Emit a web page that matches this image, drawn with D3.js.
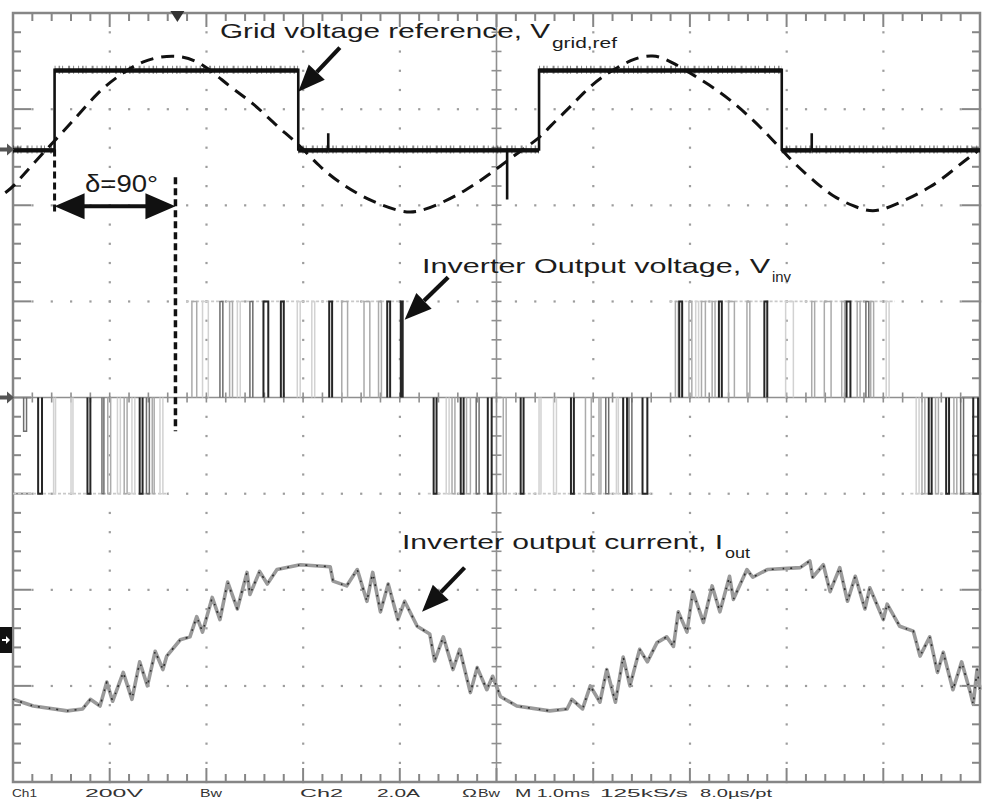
<!DOCTYPE html>
<html><head><meta charset="utf-8">
<script src="https://cdn.jsdelivr.net/npm/d3@7"></script>
<style>html,body{margin:0;padding:0;background:#fff;overflow:hidden}</style>
</head><body>
<svg id="c" width="1000" height="801"></svg>
<script>
// ---------- data (time in divisions, level in divisions) ----------
const squareT = [0, 0.43, 0.43, 2.95, 2.95, 3.26, 3.26, 3.26, 5.11, 5.11, 5.11, 5.44, 5.44, 7.95, 7.95, 8.26, 8.26, 8.26, 10];
const squareV = [2.58, 2.58, 3.41, 3.41, 2.58, 2.58, 2.75, 2.58, 2.58, 2.06, 2.58, 2.58, 3.41, 3.41, 2.58, 2.58, 2.75, 2.58, 2.58];

const sineT = [-0.08,0,0.18,0.41,0.66,0.87,1.08,1.34,1.65,1.93,2.24,2.48,2.73,2.94,3.17,3.38,3.66,4.00,4.18,4.45,4.69,4.90,5.17,5.45,5.55,5.73,5.90,6.07,6.41,6.62,6.79,7.24,7.45,7.65,7.83,8.07,8.31,8.48,8.69,8.89,9.10,9.51,9.76,9.97];
const sineV = [2.13,2.19,2.40,2.65,2.92,3.17,3.34,3.51,3.57,3.51,3.23,3.07,2.82,2.65,2.40,2.23,2.06,1.93,1.92,2.03,2.16,2.30,2.51,2.70,2.82,2.99,3.17,3.33,3.53,3.57,3.51,3.23,3.07,2.89,2.71,2.44,2.23,2.09,1.99,1.92,1.99,2.19,2.40,2.56];

const currentT = [0,0.21,0.56,0.72,0.80,0.90,0.97,1.03,1.14,1.23,1.31,1.39,1.47,1.55,1.59,1.73,1.83,1.90,1.96,2.06,2.14,2.22,2.32,2.42,2.45,2.55,2.63,2.73,2.97,3.28,3.31,3.45,3.56,3.66,3.72,3.80,3.88,3.98,4.05,4.18,4.31,4.36,4.45,4.55,4.62,4.73,4.80,4.90,4.96,5.04,5.21,5.55,5.73,5.78,5.89,5.97,6.07,6.14,6.23,6.31,6.38,6.48,6.56,6.66,6.76,6.83,6.88,6.97,7.03,7.14,7.23,7.31,7.41,7.45,7.59,7.65,7.80,8.14,8.24,8.27,8.38,8.45,8.55,8.63,8.71,8.81,8.86,9.00,9.04,9.17,9.31,9.38,9.48,9.56,9.62,9.72,9.81,9.90,9.93,9.97,10.0];
const currentV = [-3.14,-3.21,-3.26,-3.24,-3.14,-3.21,-2.96,-3.16,-2.86,-3.14,-2.75,-3.00,-2.64,-2.83,-2.69,-2.52,-2.49,-2.28,-2.44,-2.08,-2.31,-1.92,-2.20,-1.82,-2.05,-1.81,-1.94,-1.79,-1.74,-1.76,-1.91,-1.96,-1.79,-2.12,-1.82,-2.23,-1.94,-2.31,-2.12,-2.38,-2.46,-2.74,-2.49,-2.83,-2.62,-3.07,-2.81,-3.04,-2.90,-3.11,-3.21,-3.26,-3.24,-3.14,-3.24,-3.00,-3.17,-2.83,-3.17,-2.70,-3.00,-2.62,-2.75,-2.55,-2.49,-2.59,-2.23,-2.44,-2.02,-2.34,-1.96,-2.23,-1.86,-2.10,-1.79,-1.87,-1.79,-1.77,-1.70,-1.87,-1.74,-2.02,-1.77,-2.12,-1.86,-2.20,-1.98,-2.31,-2.15,-2.38,-2.43,-2.69,-2.49,-2.86,-2.65,-3.04,-2.75,-3.07,-3.19,-2.83,-3.04];

// PWM pulses: [start, end, level, persistence intensity 0..3]
const negPulsesA = [[0.11,0.14,-0.35,2],[0.26,0.30,-1,3],[0.42,0.44,-1,0],[0.60,0.62,-1,0],[0.77,0.80,-1,3],[0.92,0.94,-1,2],[0.98,1.01,-1,1],[1.08,1.11,-1,0],[1.15,1.18,-1,1],[1.23,1.26,-1,0],[1.31,1.34,-1,3],[1.38,1.41,-1,2],[1.44,1.46,-1,1],[1.52,1.55,-1,0]];
const posPulsesA = [[1.85,1.90,1,1],[1.96,2.02,1,0],[2.14,2.17,1,2],[2.24,2.27,1,1],[2.32,2.35,1,0],[2.45,2.48,1,2],[2.59,2.64,1,3],[2.77,2.80,1,3],[2.94,2.97,1,0],[3.09,3.12,1,0],[3.27,3.30,1,3],[3.40,3.46,1,1],[3.63,3.69,1,1],[3.78,3.81,1,1],[3.87,3.90,1,3],[4.01,4.03,1,3]];
const negPulsesB = [[4.35,4.38,-1,3],[4.48,4.51,-1,0],[4.54,4.57,-1,1],[4.63,4.66,-1,3],[4.69,4.73,-1,1],[4.79,4.82,-1,2],[4.91,4.95,-1,3],[5.07,5.10,-1,1],[5.25,5.28,-1,3],[5.44,5.46,-1,0],[5.59,5.62,-1,0],[5.77,5.80,-1,3],[5.92,5.98,-1,1],[6.06,6.08,-1,1],[6.13,6.16,-1,2],[6.24,6.26,-1,0],[6.31,6.35,-1,3],[6.37,6.40,-1,2],[6.51,6.56,-1,3]];
const posPulsesB = [[6.85,6.88,1,1],[6.89,6.92,1,3],[6.99,7.02,1,1],[7.06,7.09,1,0],[7.12,7.16,1,1],[7.23,7.26,1,1],[7.30,7.33,1,3],[7.40,7.46,1,1],[7.59,7.62,1,1],[7.77,7.80,1,3],[7.99,8.07,1,0],[8.26,8.29,1,1],[8.39,8.46,1,1],[8.57,8.60,1,1],[8.62,8.66,1,3],[8.73,8.76,1,1],[8.82,8.85,1,2],[8.87,8.90,1,1],[9.03,9.06,1,0]];
const negPulsesC = [[9.34,9.37,-1,0],[9.40,9.43,-1,1],[9.47,9.50,-1,3],[9.54,9.57,-1,1],[9.65,9.68,-1,3],[9.73,9.76,-1,1],[9.80,9.83,-1,2],[9.93,9.98,-1,3]];

const labelTexts = ["Grid voltage reference, V", "Inverter Output voltage, V", "Inverter output current, I"];
const labelSubs = ["grid,ref", "inv", "out"];
const deltaLabel = "δ=90°";
const deltaSpan = [0.43, 1.68];
const statusItems = ["Ch1", "200V", "Bw", "Ch2", "2.0A", "Ω", "Bw", "M 1.0ms", "125kS/s", "8.0µs/pt"];

// ---------- drawing ----------
const svg = d3.select("#c");
const X = d3.scaleLinear().domain([0, 10]).range([13, 980]);
const Y = d3.scaleLinear().domain([-4, 4]).range([782, 13]);
const FONT = "'Liberation Sans', Arial, Helvetica, sans-serif";

svg.append("rect").attr("width", 1000).attr("height", 801).attr("fill", "#fff");

// graticule dots
const gDots = svg.append("g").attr("fill", "#9d9d9d");
const sub = d3.range(0, 10.0001, 0.2);
const subY = d3.range(-4, 4.0001, 0.2);
[1,2,3,4,6,7,8,9].forEach(k => subY.forEach(v => gDots.append("rect").attr("x", X(k)-1).attr("y", Y(v)-1).attr("width", 2.2).attr("height", 2.2)));
[-3,-2,-1,1,2,3].forEach(j => sub.forEach(t => gDots.append("rect").attr("x", X(t)-1).attr("y", Y(j)-1).attr("width", 2.2).attr("height", 2.2)));

// center cross lines with ticks
const gC = svg.append("g").attr("stroke", "#8f8f8f").attr("stroke-width", 1.6);
gC.append("line").attr("x1", X(5)).attr("x2", X(5)).attr("y1", Y(4)).attr("y2", Y(-4));
gC.append("line").attr("x1", X(0)).attr("x2", X(10)).attr("y1", Y(0)).attr("y2", Y(0));
subY.forEach(v => gC.append("line").attr("x1", X(5)-5).attr("x2", X(5)+5).attr("y1", Y(v)).attr("y2", Y(v)));
sub.forEach(t => gC.append("line").attr("x1", X(t)).attr("x2", X(t)).attr("y1", Y(0)-5).attr("y2", Y(0)+5));

// frame + edge ticks
const gF = svg.append("g").attr("stroke", "#868686").attr("stroke-width", 2);
gF.append("rect").attr("x", X(0)).attr("y", Y(4)).attr("width", X(10)-X(0)).attr("height", Y(-4)-Y(4)).attr("fill", "none").attr("stroke-width", 2.5);
const isMaj = v => Math.abs(v - Math.round(v)) < 1e-6;
sub.forEach(t => {
  const L = isMaj(t) ? 14 : 8;
  gF.append("line").attr("x1", X(t)).attr("x2", X(t)).attr("y1", Y(4)).attr("y2", Y(4)+L);
  gF.append("line").attr("x1", X(t)).attr("x2", X(t)).attr("y1", Y(-4)).attr("y2", Y(-4)-L);
});
subY.forEach(v => {
  const L = isMaj(v) ? 18 : 8;
  gF.append("line").attr("x1", X(0)).attr("x2", X(0)+L).attr("y1", Y(v)).attr("y2", Y(v));
  gF.append("line").attr("x1", X(10)).attr("x2", X(10)-L).attr("y1", Y(v)).attr("y2", Y(v));
});

// ---------- Vinv PWM ----------
const shade = d3.scaleOrdinal().domain([0,1,2,3]).range(["#d2d2d2", "#ababab", "#6e6e6e", "#262626"]);
const gP = svg.append("g").attr("fill", "none");
[negPulsesA, posPulsesA, negPulsesB, posPulsesB, negPulsesC].forEach((grp, gi) => {
  const lvl = d3.median(grp, d => d[2]) > 0 ? 1 : -1;
  let a = d3.min(grp, d => d[0]) - 0.06, b = d3.max(grp, d => d[1]) + 0.06;
  if (gi === 0) a = 0;
  if (gi === 4) b = 10;
  gP.append("line").attr("x1", X(a)).attr("x2", X(b)).attr("y1", Y(lvl)).attr("y2", Y(lvl))
    .attr("stroke", "#c9c9c9").attr("stroke-width", 1.6).attr("stroke-dasharray", "3 2");
});
const allPulses = [].concat(negPulsesA, posPulsesA, negPulsesB, posPulsesB, negPulsesC)
  .sort((a, b) => a[3] - b[3]);
allPulses.forEach(p => {
  gP.append("path")
    .attr("d", `M${X(p[0])},${Y(0)}V${Y(p[2])}H${X(p[1])}V${Y(0)}`)
    .attr("stroke", shade(p[3]))
    .attr("stroke-width", p[3] === 3 ? 2 : 1.5);
});

// ---------- current ----------
const curData = d3.zip(currentT, currentV);
const curLine = d3.line().x(d => X(d[0])).y(d => Y(d[1]));
svg.append("path").attr("d", curLine(curData)).attr("fill", "none").attr("stroke", "#9a9a9a").attr("stroke-width", 3.6).attr("stroke-linejoin", "round");
svg.append("path").attr("d", curLine(curData)).attr("fill", "none").attr("stroke", "#2e2e2e").attr("stroke-width", 1.6).attr("stroke-dasharray", "1.5 6 2 9").attr("stroke-linejoin", "round");

// ---------- grid reference square wave ----------
const sqData = d3.zip(squareT, squareV);
const sqLine = d3.line().x(d => X(d[0])).y(d => Y(d[1]));
svg.append("path").attr("d", sqLine(sqData)).attr("fill", "none").attr("stroke", "#111").attr("stroke-width", 2.6);
for (let i = 0; i < sqData.length - 1; i++) {
  const a = sqData[i], b = sqData[i+1];
  if (a[1] === b[1] && b[0] - a[0] > 0.1) {
    svg.append("line").attr("x1", X(a[0])).attr("x2", X(b[0])).attr("y1", Y(a[1])).attr("y2", Y(a[1]))
      .attr("stroke", "#111").attr("stroke-width", 8).attr("stroke-opacity", 0.5)
      .attr("stroke-dasharray", "1 3 1.5 2 1 5 2 3 1 4");
    svg.append("line").attr("x1", X(a[0])).attr("x2", X(b[0])).attr("y1", Y(a[1])+1).attr("y2", Y(a[1])+1)
      .attr("stroke", "#111").attr("stroke-width", 4.2);
  }
}

// ---------- dashed grid voltage ----------
const sineData = d3.zip(sineT, sineV);
svg.append("path")
  .attr("d", d3.line().curve(d3.curveBasis).x(d => X(d[0])).y(d => Y(d[1]))(sineData))
  .attr("fill", "none").attr("stroke", "#111").attr("stroke-width", 3).attr("stroke-dasharray", "13 8");

// ---------- delta annotation ----------
const gD = svg.append("g");
gD.append("line").attr("x1", X(deltaSpan[0])).attr("x2", X(deltaSpan[0])).attr("y1", Y(2.58)).attr("y2", Y(1.93))
  .attr("stroke", "#111").attr("stroke-width", 3).attr("stroke-dasharray", "7 4");
gD.append("line").attr("x1", X(deltaSpan[1])).attr("x2", X(deltaSpan[1])).attr("y1", Y(2.29)).attr("y2", Y(-0.35))
  .attr("stroke", "#111").attr("stroke-width", 3.5).attr("stroke-dasharray", "7 4");
const dy = Y(1.99), dx0 = X(deltaSpan[0]), dx1 = X(deltaSpan[1]);
gD.append("line").attr("x1", dx0 + 20).attr("x2", dx1 - 20).attr("y1", dy).attr("y2", dy).attr("stroke", "#111").attr("stroke-width", 4);
gD.append("path").attr("d", `M${dx0},${dy}L${dx0+30},${dy-13}L${dx0+30},${dy+13}Z`).attr("fill", "#111");
gD.append("path").attr("d", `M${dx1},${dy}L${dx1-30},${dy-13}L${dx1-30},${dy+13}Z`).attr("fill", "#111");
gD.append("text").attr("x", 85).attr("y", 192).attr("font-family", FONT).attr("font-size", 23)
  .attr("fill", "#1a1a1a").attr("textLength", 73).attr("lengthAdjust", "spacingAndGlyphs").text(deltaLabel);

// ---------- callout arrows ----------
const arrows = [[[3.38, 3.64], [2.95, 3.18]], [[4.50, 1.25], [4.05, 0.81]], [[4.67, -1.77], [4.23, -2.23]]];
arrows.forEach(([f, t]) => {
  const x0 = X(f[0]), y0 = Y(f[1]), x1 = X(t[0]), y1 = Y(t[1]);
  const ang = Math.atan2(y1 - y0, x1 - x0), hl = 27, hw = 11;
  const bx = x1 - hl * Math.cos(ang), by = y1 - hl * Math.sin(ang);
  svg.append("line").attr("x1", x0).attr("y1", y0).attr("x2", bx).attr("y2", by).attr("stroke", "#111").attr("stroke-width", 4.2);
  const px = -Math.sin(ang) * hw, py = Math.cos(ang) * hw;
  svg.append("path").attr("d", `M${x1},${y1}L${bx+px},${by+py}L${bx-px},${by-py}Z`).attr("fill", "#111");
});

// ---------- labels ----------
const labelPos = [{x: 220, y: 38, w: 330, sx: 552, sy: 48, sw: 65},
                  {x: 422, y: 273, w: 348, sx: 772, sy: 282, sw: 19},
                  {x: 402, y: 549, w: 321, sx: 725, sy: 558, sw: 25}];
labelTexts.forEach((s, i) => {
  const p = labelPos[i];
  svg.append("text").attr("x", p.x).attr("y", p.y).attr("font-family", FONT).attr("font-size", 21)
    .attr("fill", "#1c1c1c").attr("textLength", p.w).attr("lengthAdjust", "spacingAndGlyphs").text(s);
  svg.append("text").attr("x", p.sx).attr("y", p.sy).attr("font-family", FONT).attr("font-size", 14)
    .attr("fill", "#1c1c1c").attr("textLength", p.sw).attr("lengthAdjust", "spacingAndGlyphs").text(labelSubs[i]);
});

// ---------- scope markers ----------
svg.append("path").attr("d", `M0,${Y(2.58)-2}H7V${Y(2.58)-6}L14,${Y(2.58)}L7,${Y(2.58)+6}V${Y(2.58)+2}H0Z`).attr("fill", "#555");
svg.append("path").attr("d", `M0,${Y(0)-2}H7V${Y(0)-6}L14,${Y(0)}L7,${Y(0)+6}V${Y(0)+2}H0Z`).attr("fill", "#555");
svg.append("rect").attr("x", 0).attr("y", 627).attr("width", 12).attr("height", 26).attr("fill", "#111");
svg.append("path").attr("d", "M2,639H6V636L10,640L6,644V641H2Z").attr("fill", "#fff");
svg.append("path").attr("d", `M${X(1.7)-7},11L${X(1.7)+7},11L${X(1.7)},22Z`).attr("fill", "#333");

// ---------- status line along the bottom edge ----------
const statusX = [12, 85, 200, 300, 377, 462, 478, 515, 600, 700];
const statusW = [25, 58, 22, 43, 43, 15, 22, 75, 88, 72];
const gS = svg.append("g").attr("font-family", FONT).attr("font-size", 11).attr("fill", "#333");
statusItems.forEach((s, i) => gS.append("text").attr("x", statusX[i]).attr("y", 797)
  .attr("textLength", statusW[i]).attr("lengthAdjust", "spacingAndGlyphs").text(s));
</script>
</body></html>
